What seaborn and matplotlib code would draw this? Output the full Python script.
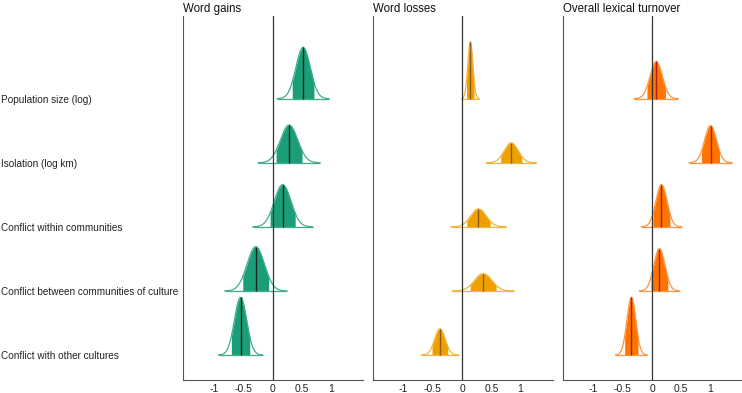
import numpy as np
import matplotlib
matplotlib.use('Agg')
import matplotlib.pyplot as plt
import seaborn as sns

# Predictors (top to bottom)
predictors = ['Population size (log)', 'Isolation (log km)', 'Conflict within communities',
              'Conflict between communities of culture', 'Conflict with other cultures']
panel_titles = ['Word gains', 'Word losses', 'Overall lexical turnover']

# Posterior medians, spreads and drawn peak heights
gains_median = [0.52, 0.28, 0.17, -0.29, -0.55]
gains_sd = [0.124, 0.148, 0.143, 0.148, 0.105]
gains_peak = [0.80, 0.59, 0.66, 0.69, 0.90]

losses_median = [0.14, 0.84, 0.28, 0.36, -0.38]
losses_sd = [0.043, 0.12, 0.133, 0.148, 0.09]
losses_peak = [0.89, 0.31, 0.28, 0.27, 0.41]

turnover_median = [0.07, 1.0, 0.16, 0.125, -0.355]
turnover_sd = [0.105, 0.102, 0.096, 0.096, 0.076]
turnover_peak = [0.58, 0.58, 0.66, 0.66, 0.90]

xtick_vals = [-1, -0.5, 0, 0.5, 1]
xtick_labels = ['-1', '-0.5', '0', '0.5', '1']

sns.set_style('white')
plt.rcParams['font.family'] = ['Liberation Sans', 'DejaVu Sans']

panels = [
    (gains_median, gains_sd, gains_peak, '#1b9e77', '#3fae8e', '#10261f'),
    (losses_median, losses_sd, losses_peak, '#eea000', '#f4b43c', '#8a5a22'),
    (turnover_median, turnover_sd, turnover_peak, '#ff7300', '#ff9440', '#a8201a'),
]

fig = plt.figure(figsize=(7.42, 3.93), dpi=100)
lefts = [0.2470, 0.5023, 0.7583]
axes = [fig.add_axes([l, 0.0331, 0.2426, 0.9262]) for l in lefts]

ypos = [4, 3, 2, 1, 0]

for ax, title, (med, sd, peak, fill, edge, mcol) in zip(axes, panel_titles, panels):
    for y0, m, s, h in zip(ypos, med, sd, peak):
        # full range as outline, central interval filled
        xs = np.linspace(m - 3.6 * s, m + 3.6 * s, 300)
        dens = h * np.exp(-0.5 * ((xs - m) / s) ** 2)
        xin = np.linspace(m - 1.5 * s, m + 1.5 * s, 150)
        din = h * np.exp(-0.5 * ((xin - m) / s) ** 2)
        ax.fill_between(xin, y0, y0 + din, color=fill, lw=0, zorder=2)
        sns.lineplot(x=xs, y=y0 + dens, ax=ax, color=edge, lw=0.9, zorder=3)
        ax.hlines(y0, xs[0], xs[-1], color=edge, lw=0.9, zorder=3)
        ax.vlines(m, y0, y0 + h, color=mcol, lw=1.0, zorder=4)

    ax.axvline(0, color='#333333', lw=0.9, zorder=5)
    ax.set_xlim(-1.53, 1.55)
    ax.set_ylim(-0.39, 5.29)
    ax.set_xticks(xtick_vals)
    ax.set_xticklabels(xtick_labels)
    ax.set_yticks(ypos)
    ax.set_yticklabels([])
    for sp in ['top', 'right']:
        ax.spines[sp].set_visible(False)
    for sp in ['left', 'bottom']:
        ax.spines[sp].set_color('#555555')
        ax.spines[sp].set_linewidth(0.8)
    ax.tick_params(axis='both', length=1.5, width=0.6, color='#555555',
                   labelsize=7.5, labelcolor='#222222', pad=1.2)
    ax.set_title(title, loc='left', fontsize=8.3, pad=3, color='#111111')

axes[0].set_yticklabels(predictors)
axes[0].tick_params(axis='y', pad=129.5, labelsize=7.2)
for lab in axes[0].get_yticklabels():
    lab.set_horizontalalignment('left')

fig.savefig('out.png', dpi=100)
